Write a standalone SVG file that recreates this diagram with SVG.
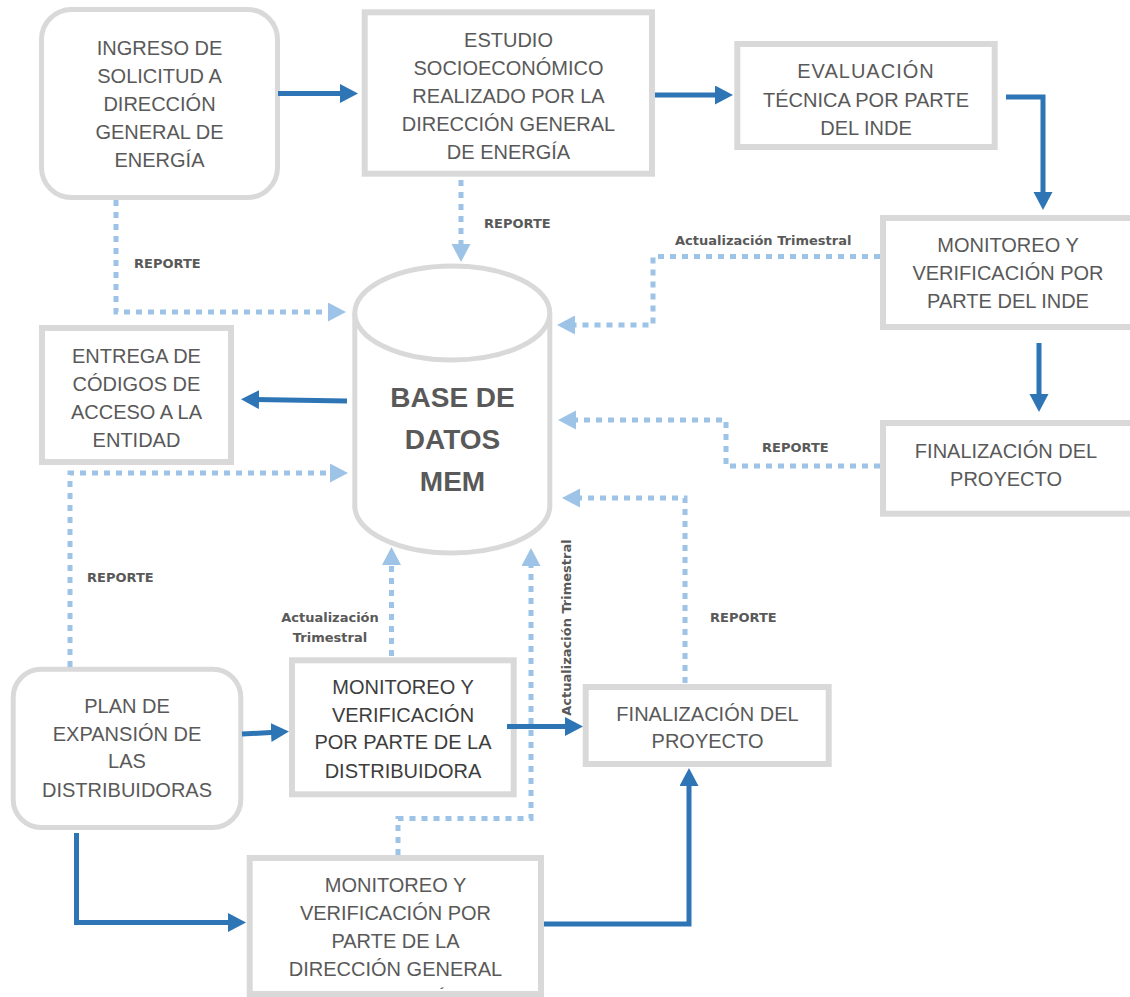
<svg xmlns="http://www.w3.org/2000/svg" width="1130" height="997" viewBox="0 0 1130 997">
<style>
.box{fill:#ffffff;stroke:#d9d9d9;stroke-width:6}
.rbox{fill:#ffffff;stroke:#d9d9d9;stroke-width:5}
.t{font-family:"Liberation Sans",Arial,sans-serif;font-size:20px;fill:#595959;text-anchor:middle}
.td{fill:#3d3d3d}
.db{font-family:"Liberation Sans",Arial,sans-serif;font-size:28px;font-weight:bold;fill:#595959;text-anchor:middle}
.lbl{font-family:"DejaVu Sans",sans-serif;font-size:13px;font-weight:bold;fill:#595959}
.solid{fill:none;stroke:#2e75b6;stroke-width:5;stroke-linejoin:miter;marker-end:url(#ab)}
.dot{fill:none;stroke:#9dc3e6;stroke-width:5;stroke-dasharray:6 6;marker-end:url(#al)}
</style>
<defs>
<marker id="ab" markerUnits="userSpaceOnUse" markerWidth="20" markerHeight="20" refX="4" refY="9.5" orient="auto"><path d="M0,0 L18,9.5 L0,19 Z" fill="#2e75b6"/></marker>
<marker id="al" markerUnits="userSpaceOnUse" markerWidth="20" markerHeight="20" refX="4" refY="9.5" orient="auto"><path d="M0,0 L18,9.5 L0,19 Z" fill="#9dc3e6"/></marker>
<clipPath id="clipDir"><rect x="252" y="861" width="286" height="128"/></clipPath>
</defs>

<g id="n-ingreso">
<rect class="rbox" x="41.5" y="9.5" width="236" height="188" rx="30"/>
<text class="t" x="159.5" y="54.5">INGRESO DE</text>
<text class="t" x="159.5" y="82.5">SOLICITUD A</text>
<text class="t" x="159.5" y="110.5">DIRECCIÓN</text>
<text class="t" x="159.5" y="138.5">GENERAL DE</text>
<text class="t" x="159.5" y="166.5">ENERGÍA</text>
</g>

<g id="n-estudio">
<rect class="box" x="364.7" y="12.3" width="287.3" height="161.4"/>
<text class="t" x="508.5" y="46.5">ESTUDIO</text>
<text class="t" x="508.5" y="74.5">SOCIOECONÓMICO</text>
<text class="t" x="508.5" y="102.5">REALIZADO POR LA</text>
<text class="t" x="508.5" y="130.5">DIRECCIÓN GENERAL</text>
<text class="t" x="508.5" y="158.5">DE ENERGÍA</text>
</g>

<g id="n-evaluacion">
<rect class="box" x="737.3" y="44" width="257.4" height="103"/>
<text class="t" x="866" y="78" letter-spacing="1">EVALUACIÓN</text>
<text class="t" x="866" y="106.5">TÉCNICA POR PARTE</text>
<text class="t" x="866" y="134.5">DEL INDE</text>
</g>

<g id="n-monitoreo-inde">
<rect class="box" x="883" y="218" width="260" height="109"/>
<text class="t" x="1008" y="252">MONITOREO Y</text>
<text class="t" x="1008" y="280">VERIFICACIÓN POR</text>
<text class="t" x="1008" y="307.5">PARTE DEL INDE</text>
</g>

<g id="n-final-inde">
<rect class="box" x="883" y="423" width="260" height="90.7"/>
<text class="t" x="1006" y="458.3">FINALIZACIÓN DEL</text>
<text class="t" x="1006" y="486">PROYECTO</text>
</g>

<g id="n-entrega">
<rect class="box" x="42" y="328" width="189" height="134"/>
<text class="t" x="136.5" y="363.3">ENTREGA DE</text>
<text class="t" x="136.5" y="391">CÓDIGOS DE</text>
<text class="t" x="136.5" y="419">ACCESO A LA</text>
<text class="t" x="136.5" y="446.7">ENTIDAD</text>
</g>

<g id="n-base">
<path d="M354.8,313 V506 A97.5,47 0 0 0 549.8,506 V313" fill="#ffffff" stroke="#d9d9d9" stroke-width="5"/>
<ellipse cx="452.3" cy="313" rx="97.5" ry="47" fill="#ffffff" stroke="#d9d9d9" stroke-width="5"/>
<text class="db" x="452.5" y="407">BASE DE</text>
<text class="db" x="452.5" y="449">DATOS</text>
<text class="db" x="452.5" y="491">MEM</text>
</g>

<g id="n-plan">
<rect class="rbox" x="13.2" y="669.2" width="227.6" height="158.3" rx="28"/>
<text class="t" x="127" y="712.7">PLAN DE</text>
<text class="t" x="127" y="740.7">EXPANSIÓN DE</text>
<text class="t" x="127" y="768.3">LAS</text>
<text class="t" x="127" y="796.7">DISTRIBUIDORAS</text>
</g>

<g id="n-monitoreo-distribuidora">
<rect class="box" x="292" y="660.3" width="221.7" height="134"/>
<text class="t td" x="403" y="694">MONITOREO Y</text>
<text class="t td" x="403" y="721.7">VERIFICACIÓN</text>
<text class="t td" x="403" y="749">POR PARTE DE LA</text>
<text class="t td" x="403" y="778">DISTRIBUIDORA</text>
</g>

<g id="n-final">
<rect class="box" x="585.7" y="687" width="243" height="77"/>
<text class="t" x="707.5" y="720.7">FINALIZACIÓN DEL</text>
<text class="t" x="707.5" y="748.3">PROYECTO</text>
</g>

<g id="n-monitoreo-direccion">
<rect class="box" x="249.7" y="858" width="291.3" height="136"/>
<g clip-path="url(#clipDir)">
<text class="t" x="395.5" y="891.7">MONITOREO Y</text>
<text class="t" x="395.5" y="919.5">VERIFICACIÓN POR</text>
<text class="t" x="395.5" y="947.5">PARTE DE LA</text>
<text class="t" x="395.5" y="975.5">DIRECCIÓN GENERAL</text>
<text class="t" x="395.5" y="1005">DE ENERGÍA</text>
</g>
</g>

<g id="connectors">
<path class="solid" d="M278,93.5 H344"/>
<path class="solid" d="M655,95 H719"/>
<path class="solid" d="M1006,97 H1043 V196"/>
<path class="solid" d="M1039,343 V398"/>
<path class="solid" d="M347,401 L255,399.5"/>
<path class="solid" d="M242,734 L275,732.3"/>
<path class="solid" d="M507,726.5 H569"/>
<path class="solid" d="M76.5,833 V922.5 H232"/>
<path class="solid" d="M544,924 H689 V782"/>

<path class="dot" d="M116,200 V312 H332"/>
<path class="dot" d="M461,180 V248"/>
<path class="dot" d="M880,256.5 H653 V325 H571"/>
<path class="dot" d="M880,466 H726 V420 H572"/>
<path class="dot" d="M685,683 V498 H576"/>
<path class="dot" d="M391.5,656 V561"/>
<path class="dot" d="M398,855 V818.5 H531 V562"/>
<path class="dot" d="M70,667 V473 H334"/>

<text class="lbl" x="134" y="268.3">REPORTE</text>
<text class="lbl" x="484" y="228.3">REPORTE</text>
<text class="lbl" x="675" y="245">Actualización Trimestral</text>
<text class="lbl" x="762" y="451.7">REPORTE</text>
<text class="lbl" x="710" y="621.7">REPORTE</text>
<text class="lbl" x="87" y="581.7">REPORTE</text>
<text class="lbl" x="330" y="621.7" text-anchor="middle">Actualización</text>
<text class="lbl" x="330" y="642.3" text-anchor="middle">Trimestral</text>
<text class="lbl" x="571" y="627.5" text-anchor="middle" transform="rotate(-90 571 627.5)">Actualización Trimestral</text>
</g>
</svg>
